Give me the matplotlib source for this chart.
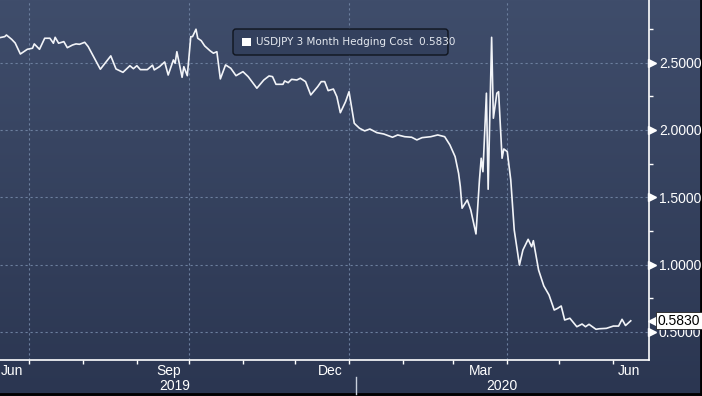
import numpy as np
import pandas as pd
import matplotlib
matplotlib.use("Agg")
import matplotlib.pyplot as plt
import matplotlib.dates as mdates
from matplotlib.transforms import blended_transform_factory, IdentityTransform
from matplotlib.colors import LinearSegmentedColormap
from matplotlib.patches import FancyBboxPatch, Rectangle

# ---------------- data ----------------
dates = [
    "2019-06-14", "2019-06-17", "2019-06-18", "2019-06-21", "2019-06-23", "2019-06-26", "2019-06-30",
    "2019-07-03", "2019-07-04", "2019-07-07", "2019-07-10", "2019-07-13", "2019-07-15", "2019-07-16",
    "2019-07-18", "2019-07-21", "2019-07-23", "2019-07-26", "2019-07-28", "2019-07-30",
    "2019-08-02", "2019-08-04", "2019-08-11", "2019-08-17", "2019-08-20", "2019-08-24", "2019-08-28",
    "2019-08-30", "2019-09-01", "2019-09-03", "2019-09-07", "2019-09-10", "2019-09-11", "2019-09-14",
    "2019-09-17", "2019-09-19", "2019-09-22", "2019-09-23", "2019-09-24", "2019-09-27", "2019-09-28",
    "2019-09-30", "2019-10-02", "2019-10-03", "2019-10-05", "2019-10-06", "2019-10-08", "2019-10-10",
    "2019-10-13", "2019-10-15", "2019-10-17", "2019-10-19", "2019-10-22", "2019-10-25", "2019-10-28",
    "2019-11-01", "2019-11-04", "2019-11-09", "2019-11-13", "2019-11-16", "2019-11-18", "2019-11-20",
    "2019-11-24", "2019-11-25", "2019-11-27", "2019-11-29", "2019-12-02", "2019-12-04", "2019-12-07",
    "2019-12-10", "2019-12-14", "2019-12-16", "2019-12-18", "2019-12-20", "2019-12-23", "2019-12-25",
    "2019-12-27", "2019-12-30", "2020-01-01", "2020-01-04", "2020-01-05", "2020-01-07", "2020-01-10",
    "2020-01-13", "2020-01-17", "2020-01-21", "2020-01-26", "2020-01-29", "2020-02-02", "2020-02-06",
    "2020-02-09", "2020-02-12", "2020-02-17", "2020-02-21", "2020-02-25", "2020-02-28", "2020-03-02",
    "2020-03-04", "2020-03-05", "2020-03-06", "2020-03-09", "2020-03-11", "2020-03-14", "2020-03-16",
    "2020-03-17", "2020-03-18", "2020-03-20", "2020-03-21", "2020-03-23", "2020-03-24", "2020-03-26",
    "2020-03-27", "2020-03-29", "2020-03-30", "2020-04-01", "2020-04-03", "2020-04-05", "2020-04-08",
    "2020-04-10", "2020-04-13", "2020-04-15", "2020-04-16", "2020-04-19", "2020-04-22", "2020-04-25",
    "2020-04-28", "2020-04-30", "2020-05-02", "2020-05-04", "2020-05-07", "2020-05-11", "2020-05-14",
    "2020-05-16", "2020-05-18", "2020-05-22", "2020-05-24", "2020-05-28", "2020-06-01", "2020-06-04",
    "2020-06-06", "2020-06-08", "2020-06-11",
]
values = [
    2.685, 2.693, 2.705, 2.673, 2.646, 2.564, 2.599,
    2.607, 2.639, 2.599, 2.681, 2.681, 2.644, 2.688,
    2.644, 2.656, 2.611, 2.631, 2.639, 2.636,
    2.651, 2.619, 2.451, 2.550, 2.453, 2.428, 2.477,
    2.455, 2.477, 2.448, 2.448, 2.481, 2.446, 2.470,
    2.505, 2.408, 2.520, 2.495, 2.581, 2.391, 2.470,
    2.403, 2.693, 2.693, 2.748, 2.681, 2.663, 2.624,
    2.589, 2.570, 2.581, 2.379, 2.483, 2.458, 2.403,
    2.433, 2.396, 2.310, 2.371, 2.401, 2.396, 2.339,
    2.339, 2.364, 2.351, 2.376, 2.371, 2.384, 2.359,
    2.260, 2.322, 2.359, 2.359, 2.292, 2.304, 2.247,
    2.128, 2.210, 2.284, 2.050, 2.037, 2.013, 1.993,
    2.007, 1.980, 1.970, 1.946, 1.963, 1.950, 1.946,
    1.926, 1.943, 1.950, 1.963, 1.950, 1.889, 1.802,
    1.678, 1.579, 1.419, 1.480, 1.406, 1.228, 1.629,
    1.790, 1.690, 2.273, 1.560, 2.688, 2.087, 2.273,
    2.284, 1.790, 1.859, 1.839, 1.629, 1.257, 0.997,
    1.109, 1.188, 1.133, 1.178, 0.960, 0.842, 0.775,
    0.663, 0.676, 0.693, 0.589, 0.602, 0.539, 0.559,
    0.539, 0.557, 0.520, 0.524, 0.527, 0.544, 0.544,
    0.594, 0.548, 0.583,
]
series_name = "USDJPY 3 Month Hedging Cost"
y_major = [0.5, 1.0, 1.5, 2.0, 2.5]
y_minor = [0.75, 1.25, 1.75, 2.25, 2.75]
month_labels = ["Jun", "Sep", "Dec", "Mar", "Jun"]
month_label_pos = ["2019-06-21", "2019-09-19", "2019-12-21", "2020-03-17", "2020-06-10"]
year_labels = ["2019", "2020"]
year_label_pos = ["2019-09-23", "2020-03-29"]

x = pd.to_datetime(dates)

# ---------------- figure ----------------
W, H = 702, 396
fig = plt.figure(figsize=(W / 100, H / 100), dpi=100)

bg = fig.add_axes([0, 0, 1, 1], zorder=0)
grad = np.linspace(0, 1, 256).reshape(-1, 1)
cmap = LinearSegmentedColormap.from_list("bg", ["#3f4d6b", "#2b3651"])
bg.imshow(grad, aspect="auto", cmap=cmap, extent=[0, 1, 0, 1], origin="upper")
bg.set_xlim(0, 1)
bg.set_ylim(0, 1)
bg.set_axis_off()
bg.axvline(700.8 / W, color="black", lw=2)
bg.axhline(2.5 / H, color="black", lw=2)

ax = fig.add_axes([0, 36 / H, 648.5 / W, 360 / H], zorder=1)
ax.set_facecolor("none")

ax.plot(x, values, color="#f2f4f8", lw=1.2, zorder=3)

ax.set_xlim(pd.Timestamp("2019-06-14 07:00"), pd.Timestamp("2020-06-21 05:00"))
ax.set_ylim(0.292, 2.965)

for s in ["left", "top"]:
    ax.spines[s].set_visible(False)
for s in ["right", "bottom"]:
    ax.spines[s].set_color("white")
    ax.spines[s].set_linewidth(1.2)

# y axis
ax.yaxis.tick_right()
ax.set_yticks(y_major)
ax.set_yticks(y_minor, minor=True)
ax.set_yticklabels([f"{v:.4f}" for v in y_major])
ax.tick_params(axis="y", which="major", length=0, pad=7.5, labelcolor="white",
               labelsize=10)
ax.tick_params(axis="y", which="minor", length=3, width=1, color="white", direction="out")
for lab in ax.get_yticklabels():
    lab.set_fontfamily("Liberation Sans")

bt = blended_transform_factory(ax.transAxes, ax.transData)
ax.plot([1 + 3.5 / 648.5] * len(y_major), y_major, linestyle="none", marker=">",
        ms=6, color="white", mec="white", transform=bt, clip_on=False, zorder=4)

# x axis
ax.xaxis.set_major_locator(mdates.MonthLocator(bymonth=[1, 4, 7, 10]))
ax.xaxis.set_minor_locator(mdates.MonthLocator())
ax.xaxis.set_major_formatter(plt.NullFormatter())
ax.tick_params(axis="x", which="both", length=3, width=1, color="white", direction="out")

ax.grid(True, which="major", axis="both", color="#6c7f9e", linestyle=(0, (2, 2.5)), lw=0.8)
ax.set_axisbelow(True)

bx = blended_transform_factory(ax.transData, ax.transAxes)
for lab, pos in zip(month_labels, month_label_pos):
    ax.text(pd.Timestamp(pos), -0.031, lab, transform=bx, ha="center", va="center",
            color="white", fontsize=10, family="Liberation Sans", clip_on=False)
for lab, pos in zip(year_labels, year_label_pos):
    ax.text(pd.Timestamp(pos), -0.073, lab, transform=bx, ha="center", va="center",
            color="white", fontsize=10, family="Liberation Sans", clip_on=False)
ax.plot([pd.Timestamp("2020-01-05")] * 2, [-0.047, -0.095], transform=bx, color="#c9d0dc",
        lw=1, clip_on=False)

# value tag
last = values[-1]
ax.plot([1 + 5 / 648.5], [last], marker="<", ms=7.5, color="white", mec="white",
        transform=bt, clip_on=False, zorder=9, linestyle="none")
ax.text(1 + 9.5 / 648.5, last, f"{last:.4f}", transform=bt, ha="left", va="center",
        fontsize=10, family="Liberation Sans", color="black", zorder=10, clip_on=False,
        bbox=dict(boxstyle="square,pad=0.12", fc="white", ec="#222222", lw=0.6))

# legend box (pixel coordinates)
px = IdentityTransform()
box = FancyBboxPatch((233, H - 55), 215, 26, boxstyle="round,pad=0,rounding_size=3",
                     fc="#33405d", ec="#10151f", lw=1.0, transform=px, zorder=20)
fig.patches.append(box)
sq = Rectangle((242, H - 46), 8.5, 8.5, fc="white", ec="none", transform=px, zorder=21)
fig.patches.append(sq)
fig.text(256, H - 42, f"{series_name}  {last:.4f}", transform=px, ha="left", va="center",
         fontsize=7.5, family="DejaVu Sans", color="#e4e8ef", zorder=22)

fig.savefig("out.png", dpi=100)
